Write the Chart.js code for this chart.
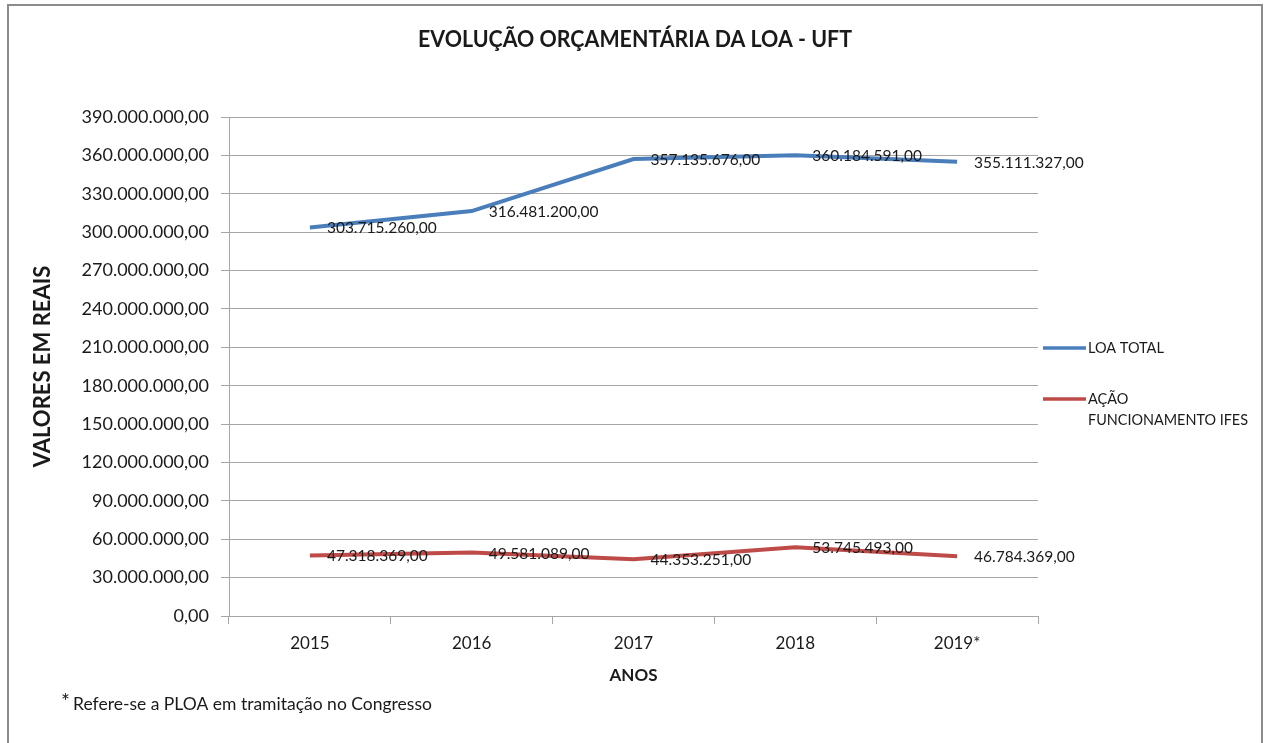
<!DOCTYPE html>
<html>
<head>
<meta charset="utf-8">
<script src="https://cdn.jsdelivr.net/npm/chart.js@4"></script>
<style>
	html, body { margin: 0; padding: 0; background: #fff; }
	.wrap { width: 1271px; height: 743px; position: relative; }
</style>
</head>
<body>
<div class="wrap"><canvas id="chart" width="1271" height="743"></canvas></div>
<script>
let years = ['2015', '2016', '2017', '2018', '2019*'];
let loaTotal = [303715260, 316481200, 357135676, 360184591, 355111327];
let acaoFuncionamento = [47318369, 49581089, 44353251, 53745493, 46784369];
let yMin = 0;
let yMax = 390000000;
let yStep = 30000000;

let fontName = 'Lato, Calibri, sans-serif';
let textColor = '#1a1a1a';
let gridColor = '#a6a6a6';

function formatReais(v) {
	let parts = Math.round(v).toString().replace(/\B(?=(\d{3})+(?!\d))/g, '.');
	return parts + ',00';
}

// frame, title, footnote, legend and point labels
let decorations = {
	id: 'decorations',
	beforeDraw(chart) {
		let ctx = chart.ctx;
		ctx.save();
		ctx.fillStyle = '#fff';
		ctx.fillRect(0, 0, chart.width, chart.height);
		ctx.strokeStyle = '#8c8c8c';
		ctx.lineWidth = 2;
		ctx.strokeRect(8, 5, 1254, 760);
		ctx.restore();
	},
	afterDraw(chart) {
		let ctx = chart.ctx;
		ctx.save();
		ctx.fillStyle = textColor;
		ctx.textBaseline = 'middle';

		ctx.textAlign = 'center';
		ctx.font = 'bold 23px ' + fontName;
		ctx.fillText('EVOLUÇÃO ORÇAMENTÁRIA DA LOA - UFT', 635, 40, 434);

		ctx.textAlign = 'left';
		ctx.font = '21px ' + fontName;
		ctx.fillText('*', 61, 702);
		ctx.font = '17.5px ' + fontName;
		ctx.fillText('Refere-se a PLOA em tramitação no Congresso', 73, 704, 360);

		// legend
		let items = [
			{color: '#4a7ebb', lines: ['LOA TOTAL'], y: 348},
			{color: '#be4b48', lines: ['AÇÃO', 'FUNCIONAMENTO IFES'], y: 399}
		];
		for (let item of items) {
			ctx.strokeStyle = item.color;
			ctx.lineWidth = 3.5;
			ctx.beginPath();
			ctx.moveTo(1043, item.y);
			ctx.lineTo(1086, item.y);
			ctx.stroke();
			ctx.font = '14.5px ' + fontName;
			item.lines.forEach((line, i) => {
				ctx.fillText(line, 1088, item.y + i * 21, 160);
			});
		}

		// point labels
		ctx.font = '15.5px ' + fontName;
		chart.data.datasets.forEach((ds, i) => {
			let meta = chart.getDatasetMeta(i);
			meta.data.forEach((pt, j) => {
				ctx.fillText(formatReais(ds.data[j]), pt.x + 17, pt.y + 1, 112);
			});
		});
		ctx.restore();
	}
};

function main() {
	let ctx = document.getElementById('chart').getContext('2d');
	new Chart(ctx, {
		type: 'line',
		data: {
			labels: years,
			datasets: [
				{
					label: 'LOA TOTAL',
					data: loaTotal,
					borderColor: '#4a7ebb',
					borderWidth: 4,
					pointRadius: 0,
					tension: 0,
					fill: false
				},
				{
					label: 'AÇÃO FUNCIONAMENTO IFES',
					data: acaoFuncionamento,
					borderColor: '#be4b48',
					borderWidth: 4,
					pointRadius: 0,
					tension: 0,
					fill: false
				}
			]
		},
		options: {
			responsive: false,
			animation: false,
			layout: {
				padding: {left: 30, top: 117, right: 233, bottom: 57}
			},
			plugins: {
				legend: {display: false},
				title: {display: false},
				tooltip: {enabled: false}
			},
			scales: {
				x: {
					offset: true,
					grid: {
						offset: true,
						drawOnChartArea: false,
						drawTicks: true,
						tickLength: 8,
						color: gridColor
					},
					border: {color: gridColor},
					ticks: {
						color: textColor,
						font: {family: fontName, size: 17},
						padding: 9,
						maxRotation: 0
					},
					title: {
						display: true,
						text: 'ANOS',
						color: textColor,
						font: {family: fontName, size: 17, weight: 'bold'},
						padding: 0
					},
					afterFit(scale) {
						scale.height = 70;
					}
				},
				y: {
					min: yMin,
					max: yMax,
					grid: {
						color: gridColor,
						tickLength: 8
					},
					border: {color: gridColor},
					ticks: {
						stepSize: yStep,
						color: textColor,
						font: {family: fontName, size: 18},
						padding: 12,
						callback: (v) => formatReais(v)
					},
					title: {
						display: true,
						text: 'VALORES EM REAIS',
						color: textColor,
						font: {family: fontName, size: 22, weight: 'bold'},
						padding: 0
					},
					afterFit(scale) {
						scale.width = 228 - 29;
					}
				}
			}
		},
		plugins: [decorations]
	});
}

main();
</script>
</body>
</html>
